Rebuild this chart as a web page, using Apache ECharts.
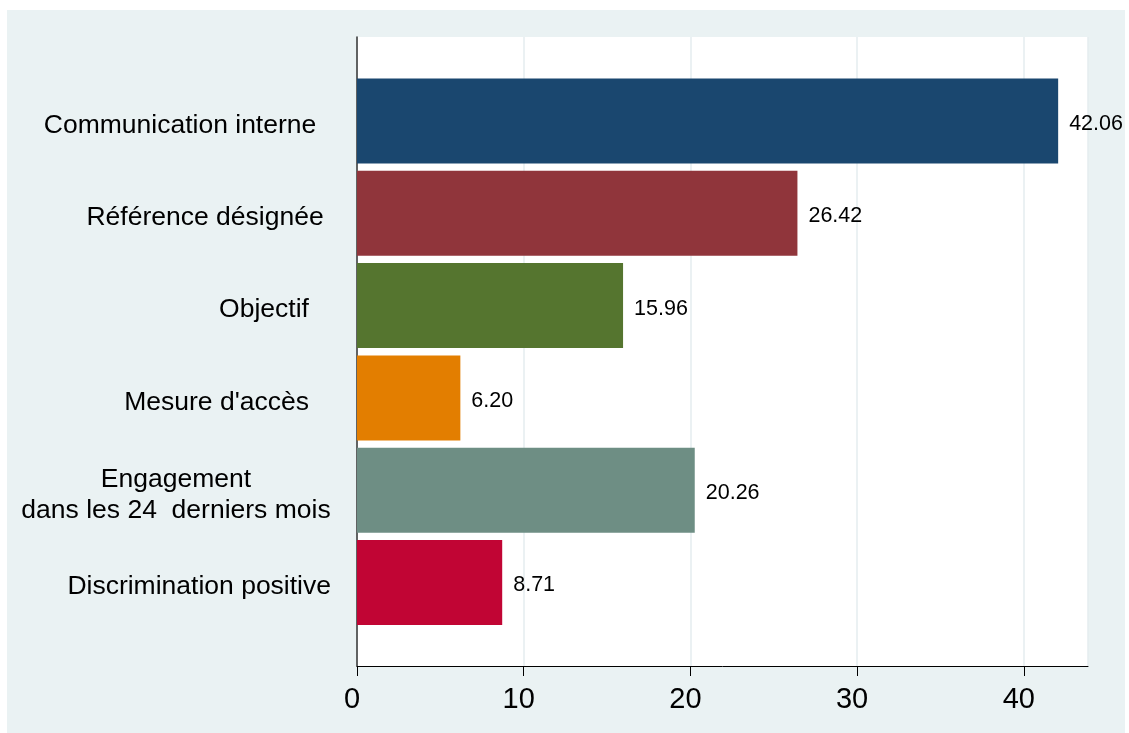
<!DOCTYPE html>
<html>
<head>
<meta charset="utf-8">
<script src="https://cdn.jsdelivr.net/npm/echarts@6/dist/echarts.min.js"></script>
<style>
  html, body { margin: 0; padding: 0; background: #ffffff; }
  #chart { width: 1129px; height: 733px; }
</style>
</head>
<body>
<div id="chart"></div>
<script>
// categories, top to bottom (trailing spaces are part of the original labels)
var categories = [
  'Communication interne  ',
  'Référence désignée ',
  'Objectif   ',
  "Mesure d'accès   ",
  'Engagement\ndans les 24  derniers mois',
  'Discrimination positive'
];
var values = [42.06, 26.42, 15.96, 6.20, 20.26, 8.71];
var barColors = ['#1a476f', '#90353b', '#55752f', '#e37e00', '#6e8e84', '#c10534'];
var xTicks = [0, 10, 20, 30, 40];

var chart = echarts.init(document.getElementById('chart'), null, { renderer: 'canvas' });

var font = 'Liberation Sans, Arial, sans-serif';

var option = {
  backgroundColor: '#ffffff',
  animation: false,
  graphic: [{
    type: 'rect',
    z: -10,
    shape: { x: 7, y: 10, width: 1118, height: 723 },
    style: { fill: '#eaf2f3' }
  }],
  grid: [
    // plot region (white) with x axis
    { left: 357, right: 41, top: 37, bottom: 67, show: true, backgroundColor: '#ffffff', borderWidth: 0 },
    // bar region
    { left: 357, right: 41, top: 74.85, bottom: 104.35 }
  ],
  xAxis: [{
    gridIndex: 0,
    type: 'value',
    min: 0,
    max: 43.85,
    interval: 10,
    axisLine: { show: true, onZero: false, lineStyle: { color: '#000000', width: 1 } },
    axisTick: { show: true, length: 10, lineStyle: { color: '#000000', width: 1 } },
    axisLabel: {
      fontFamily: font, fontSize: 29, color: '#000000', margin: 19,
      padding: [0, 10, 0, 0],
      showMaxLabel: false,
      formatter: function (v) { return xTicks.indexOf(v) >= 0 ? String(v) : ''; }
    },
    splitLine: { show: true, lineStyle: { color: '#e4edef', width: 1.5 } }
  }, {
    gridIndex: 1,
    type: 'value',
    min: 0,
    max: 43.85,
    show: false
  }],
  yAxis: [{
    gridIndex: 0,
    type: 'value',
    min: 0,
    max: 1,
    axisLine: { show: true, lineStyle: { color: '#333333', width: 1.5 } },
    axisTick: { show: false },
    axisLabel: { show: false },
    splitLine: { show: false }
  }, {
    gridIndex: 1,
    type: 'category',
    inverse: true,
    data: categories,
    axisLine: { show: false },
    axisTick: { show: false },
    splitLine: { show: false },
    axisLabel: {
      margin: 26,
      padding: [9, 0, 0, 0],
      fontFamily: font,
      fontSize: 26.5,
      color: '#000000',
      lineHeight: 31,
      formatter: function (v) {
        if (v.indexOf('\n') >= 0) {
          return v.split('\n').map(function (s) { return '{c|' + s + '}'; }).join('\n');
        }
        return v;
      },
      rich: {
        c: { width: 310, align: 'center', fontFamily: font, fontSize: 26.5, color: '#000000', lineHeight: 31 }
      }
    }
  }],
  series: [{
    type: 'bar',
    xAxisIndex: 1,
    yAxisIndex: 1,
    barWidth: 85,
    data: values.map(function (v, i) {
      return { value: v, itemStyle: { color: barColors[i] } };
    }),
    label: {
      show: true,
      position: 'right',
      distance: 11,
      offset: [0, 3],
      fontFamily: font,
      fontSize: 21.5,
      color: '#000000',
      formatter: function (p) { return p.value.toFixed(2); }
    }
  }]
};

chart.setOption(option);
</script>
</body>
</html>
